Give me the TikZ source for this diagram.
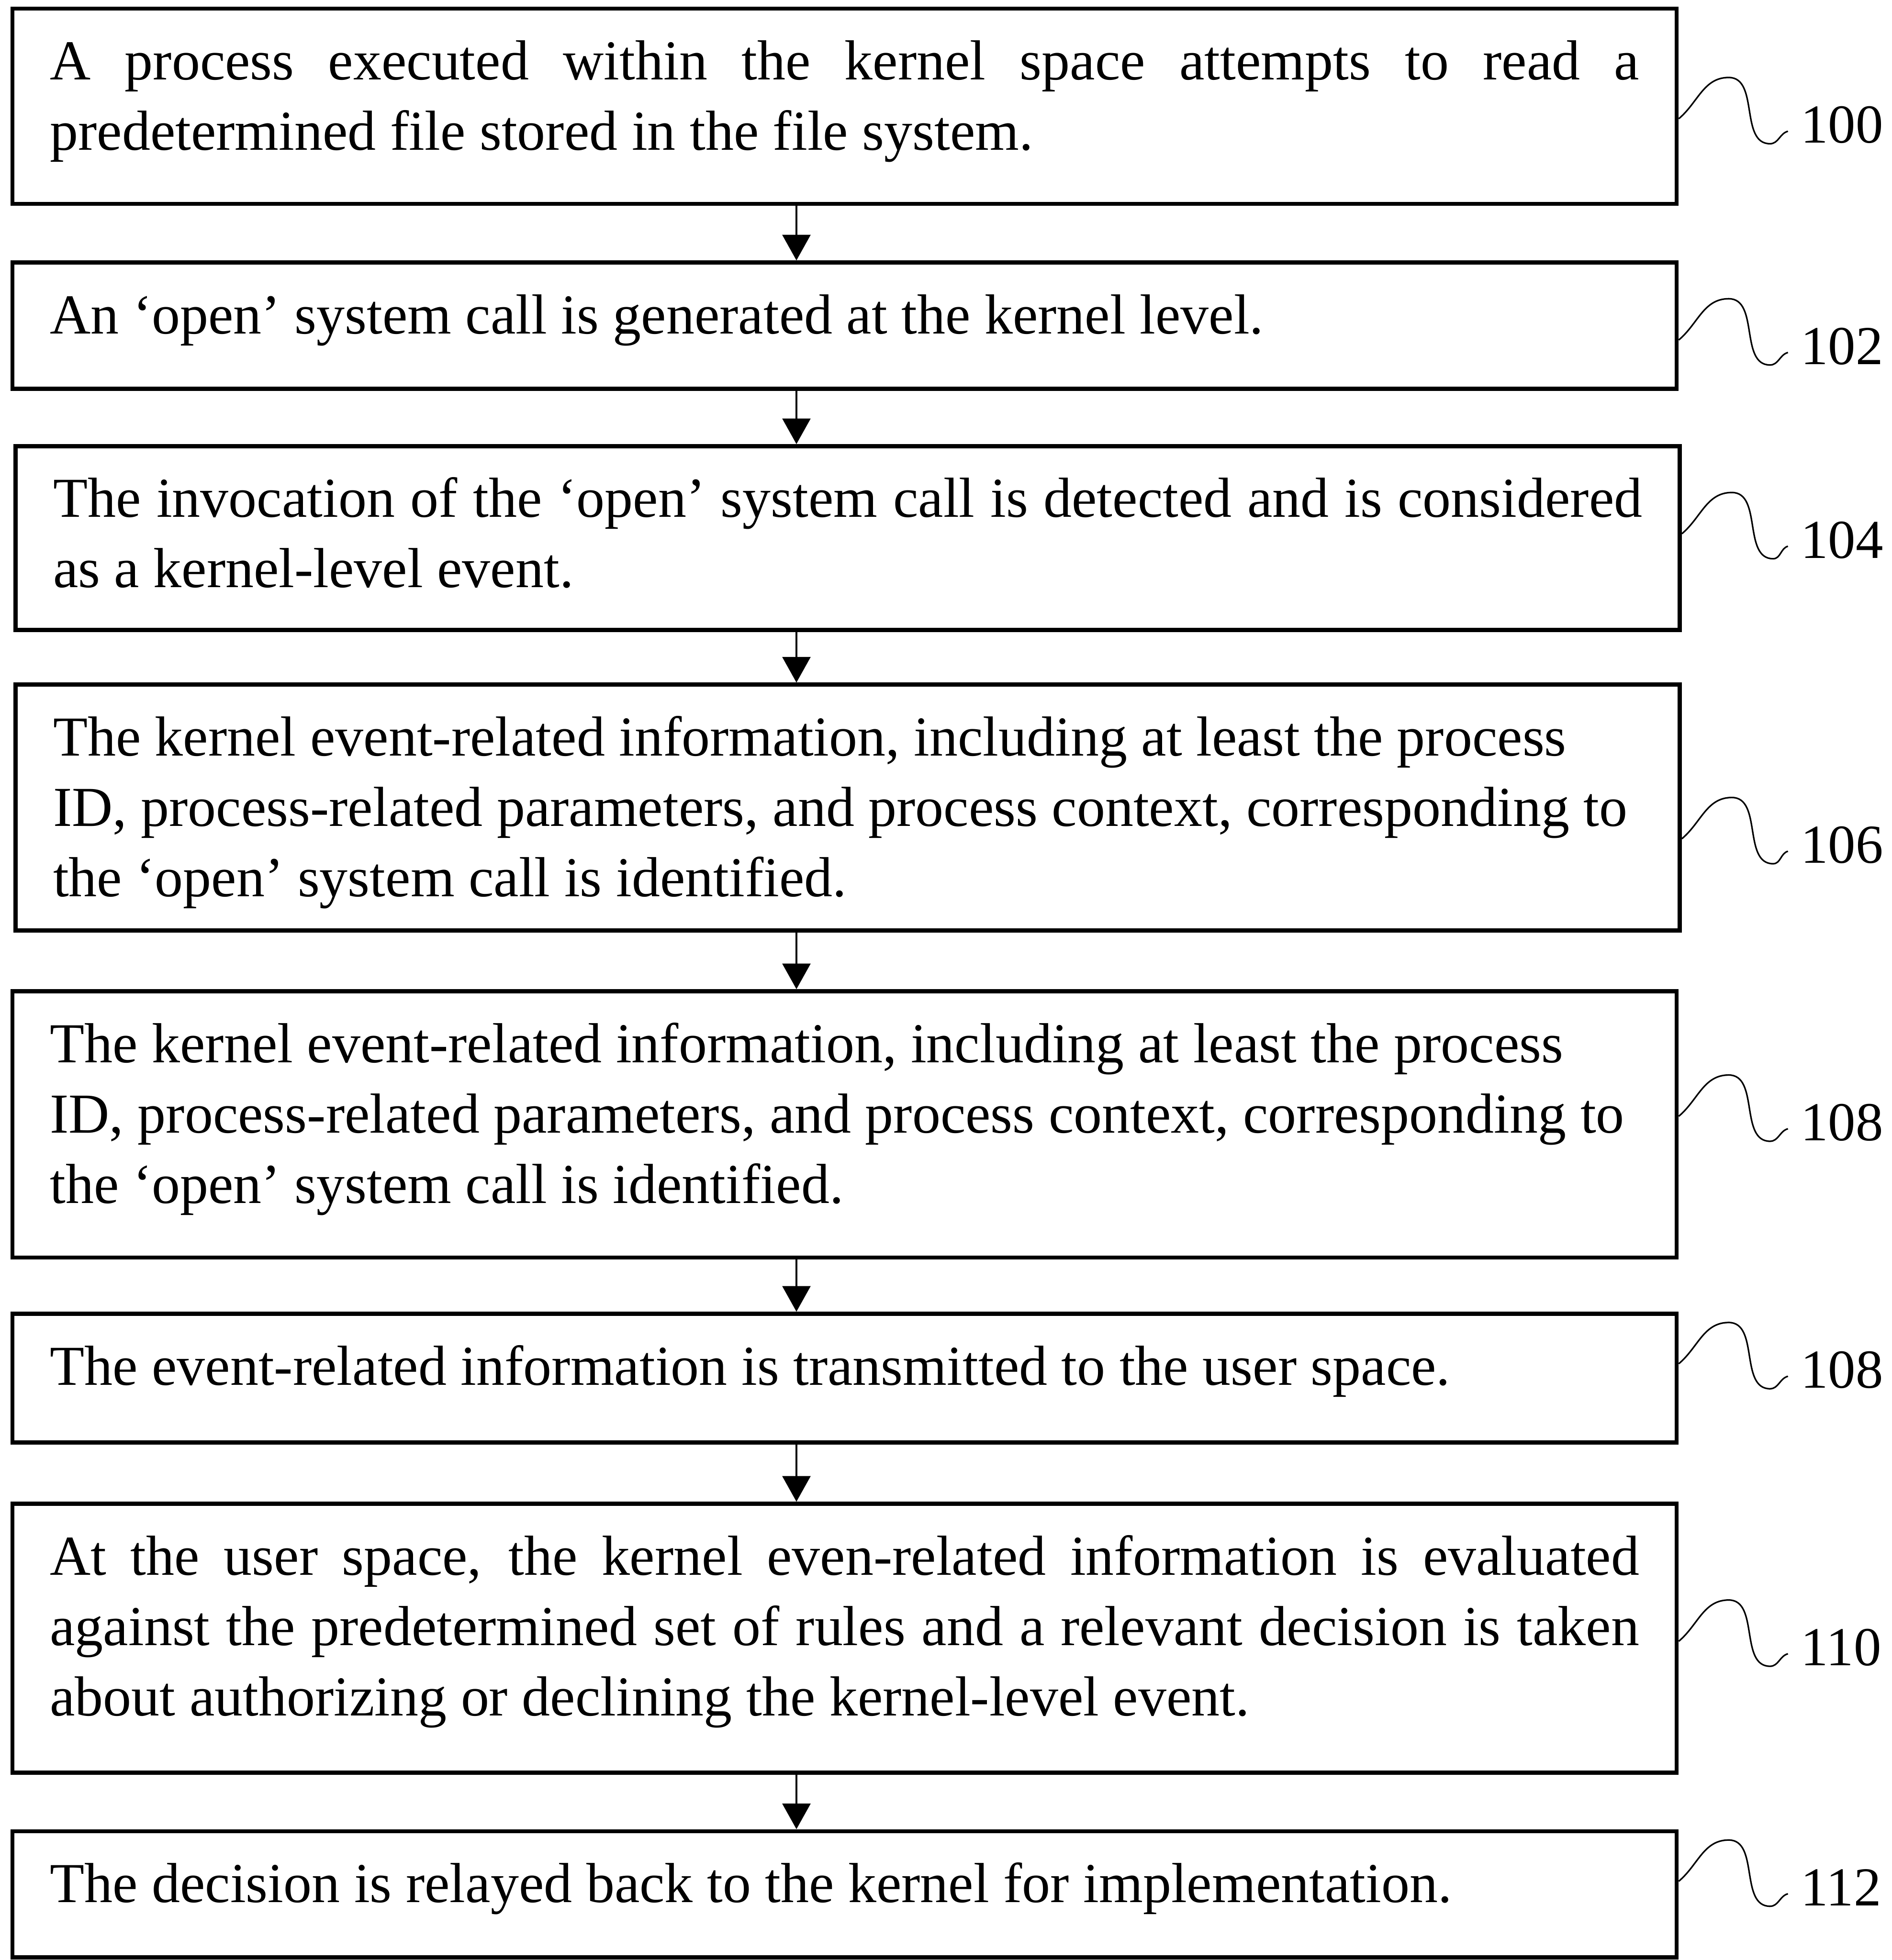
\documentclass[tikz,border=0pt]{standalone}
\usepackage{fontspec}
\setmainfont{Liberation Serif}
\usetikzlibrary{arrows.meta}
\newcommand{\lastdepth}[1]{\rule[-#1cm]{0pt}{0pt}}

\begin{document}
\begin{tikzpicture}[>={Triangle[width=0.45cm,length=0.41cm]},
  main box/.style={draw,line width=1.9pt,text width=25.42cm,inner xsep=0.6cm,inner ysep=0.35cm,align=justify,font=\fontsize{25.7}{32}\selectfont},
  num/.style={anchor=west,inner sep=0pt,font=\fontsize{25}{32}\selectfont},
  flow/.style={->,line width=0.8pt},
  lead/.style={line width=0.7pt}]
  \useasboundingbox (0,0) rectangle (30.26,-31.36);
  \coordinate (ax) at (12.74,0);

  \node[main box,minimum height=3.12cm] (b1) at (13.51,-1.70) {\strut A process executed within the kernel space attempts to read a\linebreak predetermined file stored in the file system.\lastdepth{0.51}};
  \node[main box,minimum height=2.02cm] (b2) at (13.51,-5.21) {\strut An ‘open’ system call is generated at the kernel level.\lastdepth{0.53}};
  \node[main box,minimum height=2.94cm] (b3) at (13.56,-8.61) {\strut The invocation of the ‘open’ system call is detected and is considered\linebreak as a kernel-level event.\lastdepth{0.33}};
  \node[main box,minimum height=3.88cm] (b4) at (13.56,-12.92) {\strut The kernel event-related information, including at least the process\\ ID, process-related parameters, and process context, corresponding to\\ the ‘open’ system call is identified.\lastdepth{0.19}};
  \node[main box,minimum height=4.26cm] (b5) at (13.51,-17.99) {\strut The kernel event-related information, including at least the process\\ ID, process-related parameters, and process context, corresponding to\\ the ‘open’ system call is identified.\lastdepth{0.52}};
  \node[main box,minimum height=2.06cm] (b6) at (13.51,-22.05) {\strut The event-related information is transmitted to the user space.\lastdepth{0.57}};
  \node[main box,minimum height=4.30cm] (b7) at (13.51,-26.21) {\strut At the user space, the kernel even-related information is evaluated\linebreak against the predetermined set of rules and a relevant decision is taken\linebreak about authorizing or declining the kernel-level event.\lastdepth{0.56}};
  \node[main box,minimum height=2.02cm] (b8) at (13.51,-30.31) {\strut The decision is relayed back to the kernel for implementation.\lastdepth{0.53}};

  \node[num] (n1) at (28.80,-2.00) {100};
  \node[num] (n2) at (28.80,-5.54) {102};
  \node[num] (n3) at (28.80,-8.64) {104};
  \node[num] (n4) at (28.80,-13.52) {106};
  \node[num] (n5) at (28.80,-17.96) {108};
  \node[num] (n6) at (28.80,-21.92) {108};
  \node[num] (n7) at (28.80,-26.36) {110};
  \node[num] (n8) at (28.80,-30.20) {112};

  \foreach \a/\b in {b1/b2,b2/b3,b3/b4,b4/b5,b5/b6,b6/b7,b7/b8}
    \draw[flow] (\a.south -| ax) -- (\b.north -| ax);

  \foreach \i in {1,...,8}
    \draw[lead] (b\i.east |- n\i.west) ++(0,0.1) to[out=40,in=180] ++(0.8,0.66)
      to[out=0,in=180] ++(0.66,-1.06) to[out=0,in=195] ([shift={(-0.2,-0.1)}]n\i.west);
\end{tikzpicture}
\end{document}
